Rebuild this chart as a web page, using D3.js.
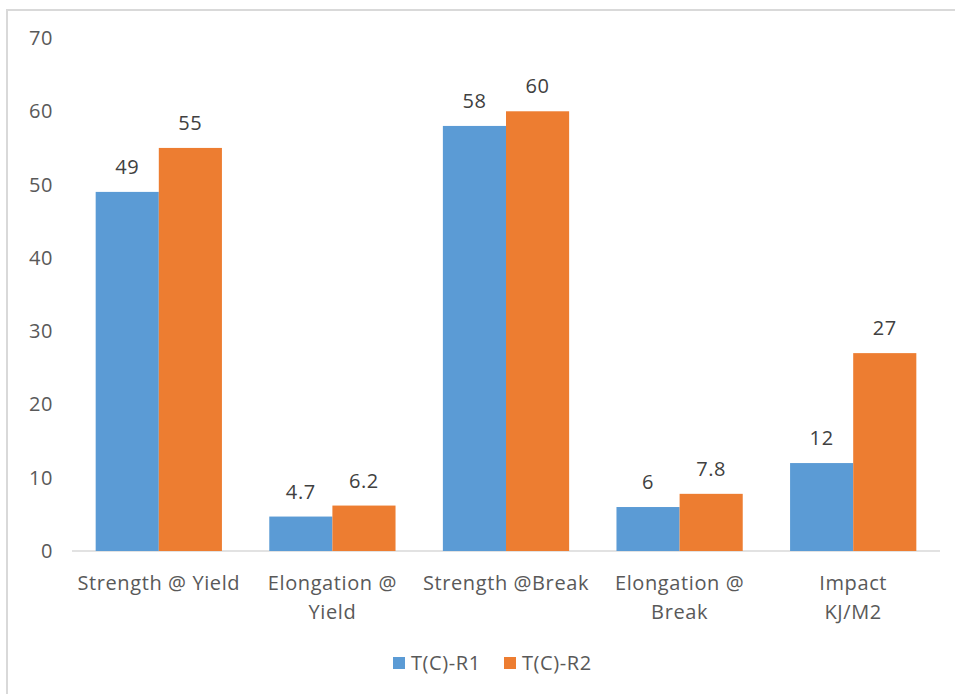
<!DOCTYPE html>
<html>
<head>
<meta charset="utf-8">
<script src="https://cdn.jsdelivr.net/npm/d3@7"></script>
<style>
  body { margin: 0; background: #fff; }
  svg { display: block; font-family: "Open Sans", Lato, sans-serif; }
  svg text { letter-spacing: 0.6px; }
</style>
</head>
<body>
<svg id="chart" width="955" height="694"></svg>
<script>
// categories, each split into the lines shown under the axis
var categories = [
  ["Strength @ Yield"],
  ["Elongation @", "Yield"],
  ["Strength @Break"],
  ["Elongation @", "Break"],
  ["Impact", "KJ/M2"]
];
var seriesNames = ["T(C)-R1", "T(C)-R2"];
var r1 = [49, 4.7, 58, 6, 12];
var r2 = [55, 6.2, 60, 7.8, 27];
var yTicks = [0, 10, 20, 30, 40, 50, 60, 70];
var colors = ["#5b9bd5", "#ed7d31"];

var svg = d3.select("#chart");
var plotLeft = 72, plotRight = 940, plotTop = 38, plotBottom = 551;
var textColor = "#595959";
var fontSize = "20px";

// chart area frame (only top and left edges fall inside the picture)
svg.append("rect")
  .attr("x", 7).attr("y", 10)
  .attr("width", 1000).attr("height", 1000)
  .attr("fill", "none")
  .attr("stroke", "#d9d9d9")
  .attr("stroke-width", 2);

var x0 = d3.scaleBand()
  .domain(d3.range(categories.length))
  .range([plotLeft, plotRight])
  .paddingInner(0.75 / 2.75)
  .paddingOuter(0.75 / 2.75 / 2);

var x1 = d3.scaleBand()
  .domain([0, 1])
  .range([0, x0.bandwidth()]);

var y = d3.scaleLinear().domain([0, 70]).range([plotBottom, plotTop]);

// y tick labels
svg.append("g").selectAll("text")
  .data(yTicks)
  .join("text")
  .attr("x", 53)
  .attr("y", function(d) { return y(d); })
  .attr("dy", "0.35em")
  .attr("text-anchor", "end")
  .attr("fill", textColor)
  .style("font-size", fontSize)
  .text(function(d) { return d; });

// baseline
svg.append("line")
  .attr("x1", plotLeft).attr("x2", plotRight)
  .attr("y1", y(0)).attr("y2", y(0))
  .attr("stroke", "#d9d9d9")
  .attr("stroke-width", 1.5);

var series = [r1, r2];

var rows = [];
series.forEach(function(vals, s) {
  vals.forEach(function(v, i) {
    rows.push({ s: s, i: i, v: v });
  });
});

svg.append("g").selectAll("rect")
  .data(rows)
  .join("rect")
  .attr("x", function(d) { return x0(d.i) + x1(d.s); })
  .attr("y", function(d) { return y(d.v); })
  .attr("width", x1.bandwidth())
  .attr("height", function(d) { return y(0) - y(d.v); })
  .attr("fill", function(d) { return colors[d.s]; });

// value labels
svg.append("g").selectAll("text")
  .data(rows)
  .join("text")
  .attr("x", function(d) { return x0(d.i) + x1(d.s) + x1.bandwidth() / 2; })
  .attr("y", function(d) { return y(d.v) - 18; })
  .attr("text-anchor", "middle")
  .attr("fill", "#404040")
  .style("font-size", fontSize)
  .text(function(d) { return d.v; });

// category labels
var cat = svg.append("g").selectAll("text")
  .data(categories)
  .join("text")
  .attr("x", function(d, i) { return x0(i) + x0.bandwidth() / 2; })
  .attr("y", 590)
  .attr("text-anchor", "middle")
  .attr("fill", textColor)
  .style("font-size", fontSize);

cat.selectAll("tspan")
  .data(function(d) { return d; })
  .join("tspan")
  .attr("x", function() { return d3.select(this.parentNode).attr("x"); })
  .attr("dy", function(d, j) { return j === 0 ? 0 : 29; })
  .text(function(d) { return d; });

// legend
var legend = svg.append("g").selectAll("g")
  .data(seriesNames)
  .join("g")
  .attr("transform", function(d, i) { return "translate(" + (393 + i * 111) + ",657)"; });

legend.append("rect")
  .attr("width", 12).attr("height", 12)
  .attr("fill", function(d, i) { return colors[i]; });

legend.append("text")
  .attr("x", 18)
  .attr("y", 6)
  .attr("dy", "0.35em")
  .attr("fill", textColor)
  .style("font-size", fontSize)
  .text(function(d) { return d; });
</script>
</body>
</html>
